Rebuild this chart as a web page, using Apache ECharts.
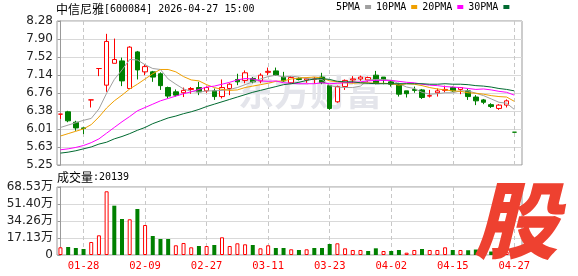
<!DOCTYPE html>
<html><head><meta charset="utf-8">
<script src="https://cdn.jsdelivr.net/npm/echarts@6/dist/echarts.min.js"></script>
<style>html,body{margin:0;padding:0;background:#fff}#c{width:578px;height:276px}</style>
</head><body><div id="c"></div>
<script>
const dates = ['01-23','01-26','01-27','01-28','01-29','01-30','02-02','02-03','02-04','02-05','02-06','02-09','02-10','02-11','02-12','02-13','02-24','02-25','02-26','02-27','03-02','03-03','03-04','03-05','03-06','03-09','03-10','03-11','03-12','03-13','03-16','03-17','03-18','03-19','03-20','03-23','03-24','03-25','03-26','03-27','03-30','03-31','04-01','04-02','04-03','04-07','04-08','04-09','04-10','04-13','04-14','04-15','04-16','04-17','04-20','04-21','04-22','04-23','04-24','04-27'];
// [open, close, low, high]
const ohlc = [
[6.32,6.32,6.22,6.32],[6.37,6.18,6.15,6.39],[6.15,6.03,5.97,6.18],[6.03,6.02,5.90,6.04],[6.62,6.62,6.46,6.62],
[7.28,7.28,7.12,7.28],[6.93,7.85,6.79,8.01],[7.39,7.47,7.39,7.91],[7.44,7.02,6.91,7.51],[6.86,7.73,6.86,7.75],
[7.63,7.25,7.05,7.65],[7.21,7.32,7.14,7.37],[7.21,7.10,7.00,7.23],[7.17,6.92,6.83,7.20],[6.88,6.70,6.65,6.90],
[6.79,6.72,6.69,6.84],[6.77,6.82,6.68,6.88],[6.84,6.86,6.75,6.89],[6.88,6.79,6.72,7.00],[6.81,6.88,6.77,6.90],
[6.81,6.69,6.62,6.86],[6.69,6.88,6.65,7.05],[6.86,6.95,6.72,6.97],[7.05,7.00,6.93,7.17],[7.03,7.19,6.97,7.24],
[7.07,7.00,6.97,7.10],[7.02,7.14,6.97,7.18],[7.20,7.22,7.14,7.30],[7.23,7.14,7.13,7.30],[7.10,7.02,7.00,7.21],
[6.98,7.09,6.97,7.12],[7.07,7.05,7.03,7.10],[7.04,7.07,6.98,7.09],[7.05,7.06,6.96,7.10],[7.10,6.98,6.95,7.19],
[6.92,6.44,6.41,6.93],[6.58,6.90,6.56,6.92],[6.90,7.03,6.83,7.05],[7.04,7.06,6.97,7.12],[7.06,7.10,7.02,7.13],
[7.04,7.09,7.00,7.11],[7.14,6.97,6.95,7.23],[7.10,7.04,6.95,7.10],[7.00,6.95,6.90,7.03],[6.95,6.74,6.69,6.98],
[6.81,6.75,6.67,6.81],[6.84,6.82,6.77,6.90],[6.83,6.67,6.64,6.85],[6.70,6.71,6.67,6.83],[6.77,6.81,6.69,6.86],
[6.82,6.84,6.78,6.92],[6.88,6.81,6.79,6.90],[6.84,6.88,6.74,6.89],[6.81,6.69,6.62,6.85],[6.68,6.60,6.51,6.72],
[6.62,6.57,6.53,6.64],[6.52,6.48,6.45,6.55],[6.44,6.51,6.41,6.53],[6.51,6.60,6.46,6.63],[5.94,5.94,5.94,5.94]
];
const volumes = [77600,80600,70500,60500,131000,198500,642000,497000,363000,360000,
463600,302300,191500,161200,161200,97800,121000,77600,90700,90700,
100800,178400,90700,117900,107800,100800,67500,97800,70500,70500,
57400,50400,57400,70500,70500,110900,117900,67500,50400,50400,
40300,67500,40300,40300,50400,23200,50400,60500,50400,50400,
77600,50400,50400,48000,55000,30200,35000,33000,33300,20139];
const ma5 = [6.04,6.09,6.14,6.19,6.23,6.43,6.76,7.05,7.25,7.47,7.46,7.36,7.28,7.26,7.06,6.95,6.85,6.80,6.78,6.81,6.81,6.82,6.84,6.88,6.94,7.00,7.06,7.11,7.14,7.10,7.12,7.10,7.07,7.06,7.05,6.92,6.89,6.88,6.88,6.91,7.04,7.05,7.05,7.03,6.96,6.89,6.86,6.78,6.74,6.75,6.77,6.77,6.81,6.81,6.76,6.71,6.64,6.57,6.55,6.42];
const ma10 = [5.86,5.91,5.96,6.01,6.10,6.26,6.45,6.60,6.72,6.85,6.95,7.06,7.17,7.26,7.26,7.21,7.11,7.04,7.02,6.94,6.88,6.84,6.82,6.83,6.88,6.91,6.94,6.97,7.01,7.02,7.06,7.08,7.09,7.10,7.08,7.02,7.00,6.98,6.97,6.98,6.98,6.97,6.97,6.96,6.93,6.96,6.95,6.92,6.88,6.85,6.83,6.81,6.80,6.77,6.76,6.74,6.71,6.69,6.68,6.59];
const ma20 = [5.57,5.59,5.62,5.66,5.72,5.80,5.92,6.04,6.16,6.27,6.39,6.46,6.53,6.60,6.65,6.70,6.75,6.79,6.84,6.89,6.91,6.95,6.99,7.04,7.07,7.06,7.02,7.01,7.02,6.98,6.97,6.96,6.96,6.96,6.98,6.96,6.97,6.98,6.99,7.00,7.02,7.03,7.03,7.03,7.01,6.99,6.98,6.95,6.93,6.92,6.90,6.89,6.88,6.86,6.84,6.85,6.83,6.80,6.78,6.72];
const ma30 = [5.50,5.52,5.55,5.59,5.63,5.69,5.73,5.80,5.85,5.91,5.98,6.04,6.12,6.18,6.24,6.28,6.33,6.37,6.42,6.48,6.53,6.58,6.63,6.68,6.73,6.78,6.82,6.86,6.90,6.94,6.96,6.99,7.03,7.06,7.07,7.05,7.01,7.00,7.00,6.98,6.97,6.96,6.96,6.96,6.96,6.96,6.96,6.96,6.95,6.95,6.96,6.95,6.95,6.94,6.92,6.91,6.89,6.86,6.84,6.81];
const priceTicks = [5.25,5.62875,6.0075,6.38625,6.765,7.14375,7.5225,7.90125,8.28];
const priceTickLabels = ['5.25','5.63','6.01','6.38','6.76','7.14','7.52','7.90','8.28'];
const volMax = 685300;
const volTickLabels = ['0','17.13万','34.26万','51.40万','68.53万'];
const dateLabelIdx = [3,11,19,27,35,43,51,59];

const RED = '#ff0000', GREEN = '#008000';
const closes = ohlc.map(d => d[1]);
const candleData = ohlc.map((d, i) => [i, d[0], d[1], d[2], d[3]]);
const volData = volumes.map((v, i) => {
  const up = i === 0 || closes[i] >= closes[i - 1];
  return { value: [i, v], itemStyle: up ? { color: '#fff', borderColor: RED, borderWidth: 1 } : { color: GREEN, borderColor: GREEN, borderWidth: 0 } };
});
const toLine = arr => arr.map((v, i) => [i, v]);

const chart = echarts.init(document.getElementById('c'), null, { renderer: 'canvas' });
const splitV = { show: true, lineStyle: { color: '#c8c8c8', type: [4, 3], width: 1 } };
const xBase = { type: 'value', min: -0.45, max: 60, axisLine: { show: false } };
chart.setOption({
  animation: false,
  backgroundColor: '#fff',
  title: {
    text: '{a|中信尼雅}{b|[600084] 2026-04-27 15:00}', left: 56, top: 3, padding: 0,
    textStyle: { fontWeight: 'normal', rich: {
      a: { fontFamily: 'Noto Sans CJK SC', fontSize: 12, fontWeight: 'normal', color: '#000' },
      b: { fontFamily: 'DejaVu Sans Mono', fontSize: 10, fontWeight: 'normal', color: '#000' } } }
  },
  legend: {
    data: ['5PMA', '10PMA', '20PMA', '30PMA'], left: 336, top: 2, padding: 0,
    align: 'right', icon: 'rect', itemWidth: 6, itemHeight: 4, itemGap: 5,
    textStyle: { fontFamily: 'DejaVu Sans Mono', fontSize: 10, color: '#000' }
  },
  grid: [
    { left: 57, right: 56, top: 21, height: 144, show: true, borderColor: '#999', borderWidth: 1 },
    { left: 57, right: 56, top: 187, height: 68, show: true, borderColor: '#999', borderWidth: 1 }
  ],
  xAxis: [
    Object.assign({}, xBase, { gridIndex: 0, axisTick: { show: false, customValues: dateLabelIdx }, axisLabel: { show: false }, splitLine: splitV }),
    Object.assign({}, xBase, { gridIndex: 1, axisTick: { show: false, customValues: dateLabelIdx },
      axisLabel: { show: true, customValues: dateLabelIdx, formatter: v => dates[Math.round(v)], color: RED, fontFamily: 'DejaVu Sans Mono', fontSize: 10.5, margin: 6 },
      splitLine: splitV })
  ],
  yAxis: [
    { type: 'value', gridIndex: 0, min: priceTicks[0], max: priceTicks[priceTicks.length - 1],
      axisLine: { show: true, lineStyle: { color: '#999' } },
      axisTick: { show: true, length: 3, customValues: priceTicks, lineStyle: { color: '#999' } },
      axisLabel: { customValues: priceTicks, formatter: v => priceTickLabels[Math.round((v - priceTicks[0]) / (priceTicks[1] - priceTicks[0]))], color: '#222', fontFamily: 'DejaVu Sans', fontSize: 12, margin: 4 },
      splitLine: { show: true, lineStyle: { color: '#d9d9d9' } } },
    { type: 'value', gridIndex: 1, min: 0, max: volMax, interval: volMax / 4,
      axisLine: { show: true, lineStyle: { color: '#999' } },
      axisTick: { show: true, length: 3, lineStyle: { color: '#999' } },
      axisLabel: { formatter: v => volTickLabels[Math.round(v / (volMax / 4))], color: '#222', fontFamily: 'DejaVu Sans, Noto Sans CJK SC', fontSize: 12, margin: 4 },
      splitLine: { show: true, lineStyle: { color: '#d9d9d9' } } }
  ],
  graphic: [
    { type: 'text', x: 238, y: 92, z: 1, silent: true, style: { text: '东方财富', font: 'bold 36px "Noto Sans CJK SC"', fill: '#e4e5eb', verticalAlign: 'middle' } },
    { type: 'text', x: 57, y: 177, z: 10, silent: true, style: { text: '{a|成交量}{b|:' + volumes[volumes.length - 1] + '}', verticalAlign: 'middle',
      rich: { a: { fontFamily: 'Noto Sans CJK SC', fontSize: 12, fill: '#000' }, b: { fontFamily: 'DejaVu Sans Mono', fontSize: 10, fill: '#000' } } } },
    { type: 'text', x: 516, y: 220, z: 100, silent: true, style: { text: '股', font: 'italic 900 84px "Noto Sans CJK SC"', fill: '#ee4130', align: 'center', verticalAlign: 'middle' } }
  ],
  series: [
    { type: 'candlestick', xAxisIndex: 0, yAxisIndex: 0, data: candleData, barWidth: 5, z: 2,
      itemStyle: { color: '#fff', color0: GREEN, borderColor: RED, borderColor0: GREEN, borderWidth: 1 } },
    { name: '5PMA', type: 'line', xAxisIndex: 0, yAxisIndex: 0, data: toLine(ma5), symbol: 'none', z: 3, color: '#a0a0a0', lineStyle: { width: 1, color: '#a0a0a0' } },
    { name: '10PMA', type: 'line', xAxisIndex: 0, yAxisIndex: 0, data: toLine(ma10), symbol: 'none', z: 3, color: '#f0a000', lineStyle: { width: 1, color: '#f0a000' } },
    { name: '20PMA', type: 'line', xAxisIndex: 0, yAxisIndex: 0, data: toLine(ma20), symbol: 'none', z: 3, color: '#ff00ff', lineStyle: { width: 1, color: '#ff00ff' } },
    { name: '30PMA', type: 'line', xAxisIndex: 0, yAxisIndex: 0, data: toLine(ma30), symbol: 'none', z: 3, color: '#006a30', lineStyle: { width: 1, color: '#006a30' } },
    { type: 'bar', xAxisIndex: 1, yAxisIndex: 1, data: volData, barWidth: 4, z: 2 }
  ]
});
</script>
</body></html>
